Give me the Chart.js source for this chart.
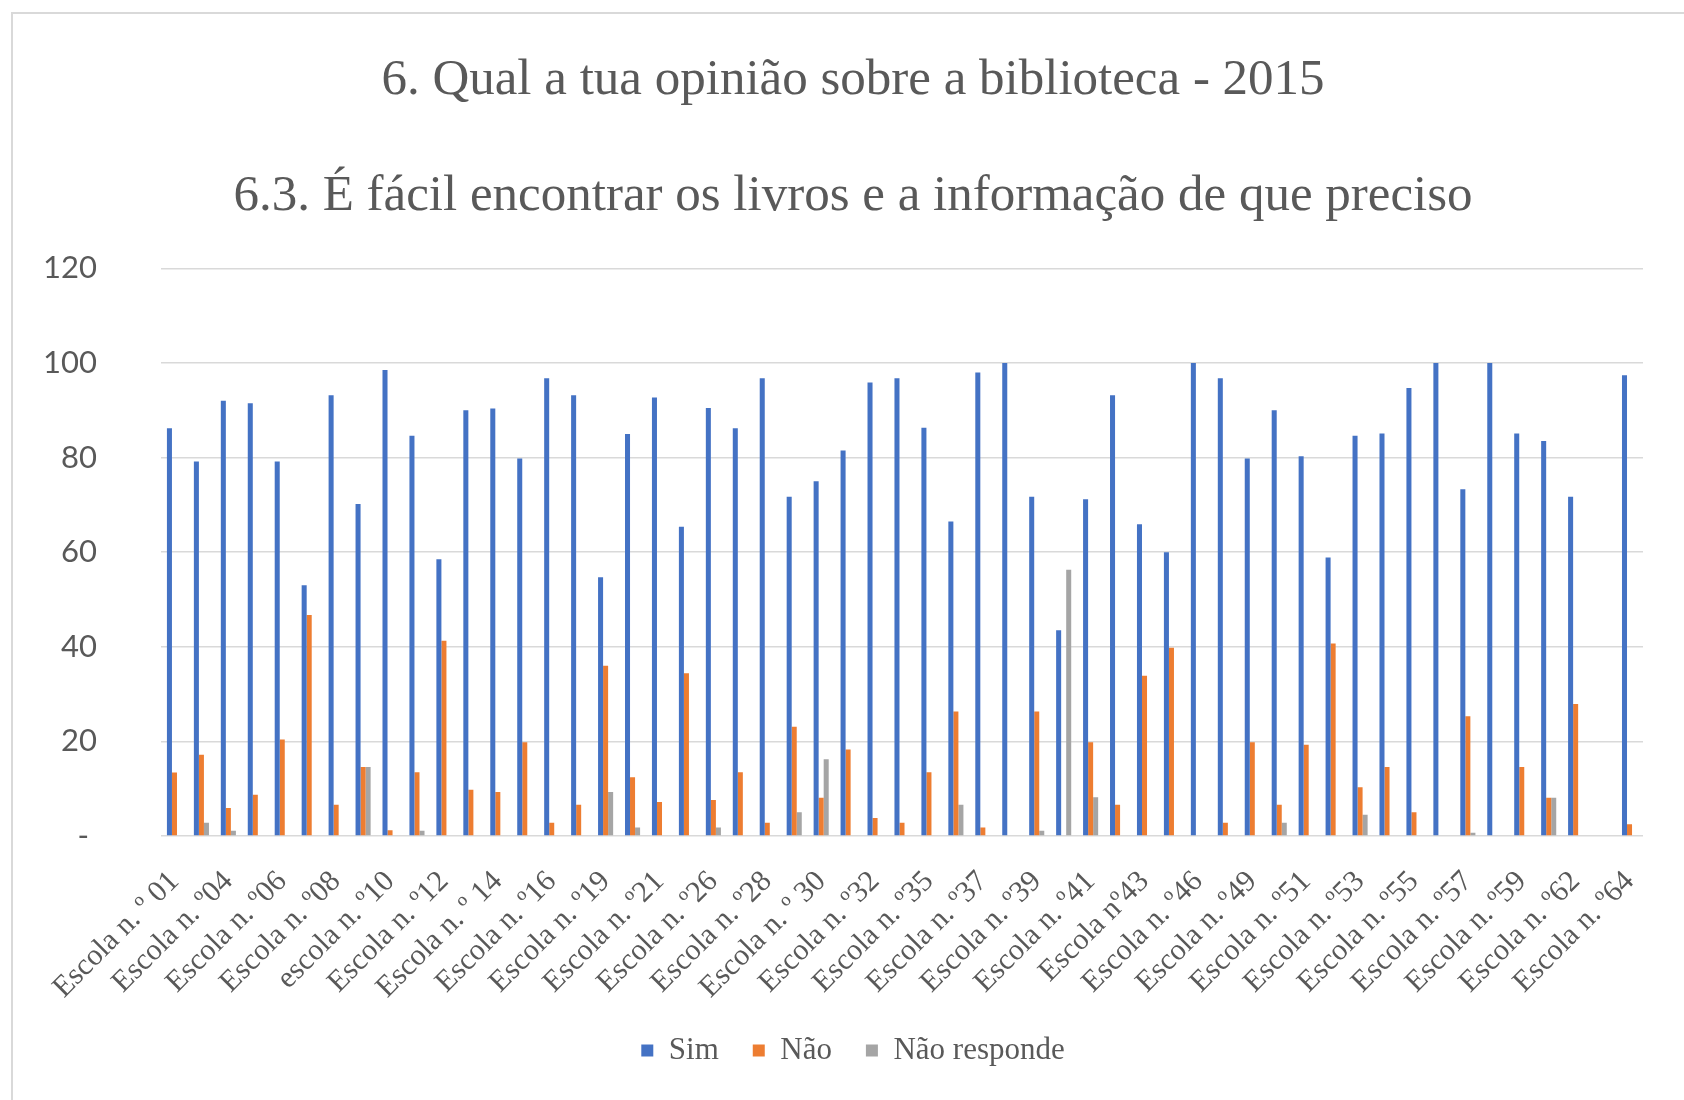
<!DOCTYPE html>
<html>
<head>
<meta charset="utf-8">
<script src="https://cdn.jsdelivr.net/npm/chart.js@4/dist/chart.umd.min.js"></script>
<style>
  html, body { margin: 0; padding: 0; background: #fff; overflow: hidden; }
  #frame {
    position: absolute; left: 11px; top: 12px; width: 1700px; height: 1100px;
    border-left: 2px solid #d9d9d9; border-top: 2px solid #d9d9d9;
  }
  #wrap { position: absolute; left: 13px; top: 15px; width: 1684px; height: 1085px; }
</style>
</head>
<body>
<div id="frame"></div>
<div id="wrap"><canvas id="chart"></canvas></div>
<script>
const schools = [
  'Escola n. º 01', 'Escola n. º02', 'Escola n. º04', 'Escola n. º05', 'Escola n. º06',
  'Escola n. º07', 'Escola n. º08', 'Escola n. º09', 'escola n. º10', 'Escola n. º11',
  'Escola n. º12', 'Escola n. º13', 'Escola n. º 14', 'Escola n. º15', 'Escola n. º16',
  'Escola n. º17', 'Escola n. º19', 'Escola n. º20', 'Escola n. º21', 'Escola n. º22',
  'Escola n. º26', 'Escola n. º27', 'Escola n. º28', 'Escola n. º29', 'Escola n. º 30',
  'Escola n. º31', 'Escola n. º32', 'Escola n. º33', 'Escola n. º35', 'Escola n. º36',
  'Escola n. º37', 'Escola n. º38', 'Escola n. º39', 'Escola n. º40', 'Escola n. º41',
  'Escola n. º42', 'Escola nº43', 'Escola n. º44', 'Escola n. º46', 'Escola n. º47',
  'Escola n. º49', 'Escola n. º50', 'Escola n. º51', 'Escola n. º52', 'Escola n. º53',
  'Escola n. º54', 'Escola n. º55', 'Escola n. º56', 'Escola n. º57', 'Escola n. º58',
  'Escola n. º59', 'Escola n. º60', 'Escola n. º62', 'Escola n. º63', 'Escola n. º64'
];

const sim = [
  86.2, 79.2, 92.0, 91.5, 79.2, 53.0, 93.2, 70.2, 98.5, 84.6,
  58.5, 90.0, 90.4, 79.8, 96.8, 93.2, 54.7, 85.0, 92.7, 65.4,
  90.5, 86.2, 96.8, 71.7, 75.0, 81.5, 95.9, 96.8, 86.3, 66.5,
  98.0, 100, 71.7, 43.5, 71.2, 93.2, 65.9, 60.0, 100, 96.8,
  79.8, 90.0, 80.3, 58.9, 84.6, 85.1, 94.7, 100, 73.3, 100,
  85.1, 83.5, 71.7, 0, 97.4
];

const nao = [
  13.4, 17.2, 5.9, 8.7, 20.4, 46.7, 6.6, 14.6, 1.2, 13.5,
  41.3, 9.8, 9.3, 19.8, 2.8, 6.6, 36.0, 12.4, 7.2, 34.4,
  7.6, 13.5, 2.8, 23.1, 8.1, 18.3, 3.8, 2.8, 13.5, 26.3,
  1.8, 0, 26.3, 0, 19.8, 6.6, 33.9, 39.8, 0, 2.8,
  19.8, 6.6, 19.3, 40.7, 10.3, 14.6, 5.0, 0, 25.3, 0,
  14.6, 8.1, 27.9, 0, 2.5
];

const naoResponde = [
  0, 2.8, 1.1, 0, 0, 0, 0, 14.6, 0, 1.1,
  0, 0, 0, 0, 0, 0, 9.3, 1.8, 0, 0,
  1.8, 0, 0, 5.0, 16.2, 0, 0, 0, 0, 6.6,
  0, 0, 1.1, 56.3, 8.2, 0, 0, 0, 0, 0,
  0, 2.8, 0, 0, 4.5, 0, 0, 0, 0.7, 0,
  0, 8.1, 0, 0, 0
];

const yTicks = [0, 20, 40, 60, 80, 100, 120];

const textGrey = '#595959';
const serif = "'Liberation Serif', 'Times New Roman', serif";

new Chart(document.getElementById('chart'), {
  type: 'bar',
  data: {
    labels: schools,
    datasets: [
      { label: 'Sim', data: sim, backgroundColor: '#4472C4' },
      { label: 'Não', data: nao, backgroundColor: '#ED7D31' },
      { label: 'Não responde', data: naoResponde, backgroundColor: '#A5A5A5' }
    ]
  },
  options: {
    responsive: true,
    maintainAspectRatio: false,
    animation: false,
    datasets: { bar: { categoryPercentage: 0.56, barPercentage: 1.0 } },
    layout: { padding: { left: 30, right: 34, top: 0, bottom: 24 } },
    plugins: {
      tooltip: { enabled: false },
      title: {
        display: true,
        text: '6. Qual a tua opinião sobre a biblioteca - 2015',
        color: textGrey,
        font: { family: serif, size: 51, weight: 'normal', lineHeight: 1.2 },
        padding: { top: 35, bottom: 0 }
      },
      subtitle: {
        display: true,
        text: '6.3. É fácil encontrar os livros e a informação de que preciso',
        color: textGrey,
        font: { family: serif, size: 51, weight: 'normal', lineHeight: 1.2 },
        padding: { top: 55, bottom: 41 }
      },
      legend: {
        position: 'bottom',
        labels: {
          color: textGrey,
          font: { family: serif, size: 31 },
          boxWidth: 12,
          boxHeight: 12,
          padding: 34
        }
      }
    },
    scales: {
      x: {
        grid: { display: false },
        border: { display: false },
        afterFit: s => { s.paddingLeft = 0; s.paddingRight = 0; s.height = 165; },
        ticks: {
          autoSkip: false,
          minRotation: 45,
          maxRotation: 45,
          color: textGrey,
          font: { family: serif, size: 30 },
          padding: 20,
          callback: (v, i) => (i % 2 === 0 ? schools[i] : '')
        }
      },
      y: {
        min: yTicks[0],
        max: yTicks[yTicks.length - 1],
        border: { display: false },
        grid: { color: '#d9d9d9', lineWidth: 1.5, drawTicks: false },
        afterFit: s => { s.width = 118; },
        ticks: {
          stepSize: 20,
          color: textGrey,
          font: { family: "Lato, 'Open Sans', sans-serif", size: 31 },
          padding: 64,
          callback: v => (v === 0 ? '- ' : v)
        }
      },
      // empty strip on the right, keeps the plot edge where Excel put it
      yRight: {
        position: 'right',
        grid: { display: false },
        border: { display: false },
        ticks: { display: false },
        afterFit: s => { s.width = 20; }
      }
    }
  }
});
</script>
</body>
</html>
